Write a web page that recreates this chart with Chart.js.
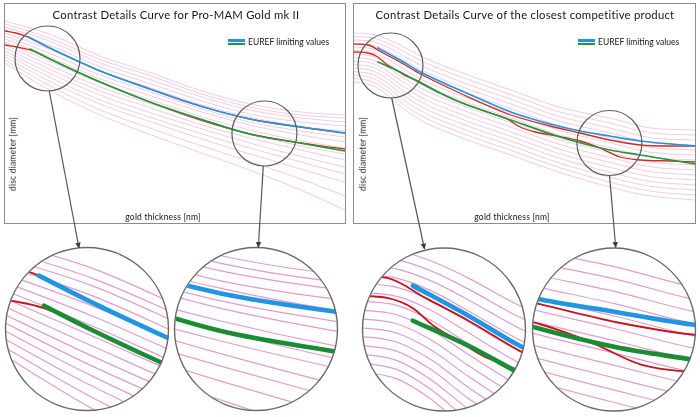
<!DOCTYPE html>
<html><head><meta charset="utf-8">
<script src="https://cdn.jsdelivr.net/npm/chart.js@4.4.1/dist/chart.umd.min.js"></script>
<style>
html,body{margin:0;padding:0;background:#fff;}
#page{position:relative;width:700px;height:417px;overflow:hidden;font-family:'Lato',sans-serif;color:#161616;}
.frame{position:absolute;border:1px solid #8c8c8c;}
.frame canvas{position:absolute;left:0;top:0;}
.txt{position:absolute;white-space:nowrap;transform:translate(-50%,-50%);line-height:1;}
.title{font-size:11.3px;letter-spacing:0.25px;}
.axl{font-size:8.5px;letter-spacing:0.2px;}
.ylab{transform:translate(-50%,-50%) rotate(-90deg);}
.leg{position:absolute;font-size:8.5px;line-height:1;white-space:nowrap;}
.sw{position:absolute;width:17px;height:2.5px;}
.lens{position:absolute;border-radius:50%;overflow:hidden;}
.lens canvas{position:absolute;left:0;top:0;}
svg{position:absolute;left:0;top:0;pointer-events:none;}
</style></head>
<body>
<div id="page">
  <div class="frame" style="left:4px;top:3px;width:340px;height:219px;"><canvas id="cL" width="340" height="219"></canvas></div>
  <div class="frame" style="left:353px;top:3px;width:341px;height:219px;"><canvas id="cR" width="341" height="219"></canvas></div>

  <div class="txt title" style="left:176px;top:15px;">Contrast Details Curve for Pro-MAM Gold mk II</div>
  <div class="txt title" style="left:525px;top:15px;">Contrast Details Curve of the closest competitive product</div>

  <div class="sw" style="left:228px;top:39px;background:#1f95e3;"></div>
  <div class="sw" style="left:228px;top:42.5px;background:#1d9a3c;"></div>
  <div class="leg" style="left:248px;top:37.5px;">EUREF limiting values</div>
  <div class="sw" style="left:578px;top:39px;background:#1f95e3;"></div>
  <div class="sw" style="left:578px;top:42.5px;background:#1d9a3c;"></div>
  <div class="leg" style="left:598px;top:37.5px;">EUREF limiting values</div>

  <div class="txt axl ylab" style="left:13px;top:154px;">disc diameter [mm]</div>
  <div class="txt axl ylab" style="left:363px;top:154px;">disc diameter [mm]</div>
  <div class="txt axl" style="left:163px;top:217px;">gold thickness [nm]</div>
  <div class="txt axl" style="left:512px;top:217px;">gold thickness [nm]</div>

  <div class="lens" id="l0"><canvas id="z0" width="163" height="163"></canvas></div>
  <div class="lens" id="l1"><canvas id="z1" width="163" height="163"></canvas></div>
  <div class="lens" id="l2"><canvas id="z2" width="163" height="163"></canvas></div>
  <div class="lens" id="l3"><canvas id="z3" width="163" height="163"></canvas></div>
  <svg id="ov" width="700" height="417"></svg>
</div>
<script>
// ================= DATA (gold thickness x, disc diameter y, arbitrary units) =================
// --- Pro-MAM Gold mk II ---
const pinkXLeft = [0, 13, 28, 43, 57, 72, 87, 100];
const pinkLeft = [
  [202, 189, 167, 150, 133, 119, 111, 108],
  [199, 185, 163.5, 147, 130, 116, 108, 105],
  [196, 182, 160, 143, 127, 113, 105, 101],
  [193, 178, 156, 139, 123, 109, 101, 97],
  [190, 174, 152, 135, 119, 106, 96.5, 92],
  [187, 170, 148, 131, 115, 101, 92, 86],
  [184, 166, 144, 127, 112, 98, 88, 81],
  [181, 162, 140, 123, 107, 93, 82, 75],
  [178, 158, 136, 119, 103, 89, 77, 69],
  [175, 154, 132, 115, 99, 85, 73, 63],
  [172, 150, 128, 110, 95, 80, 66.5, 56],
  [169, 146, 123, 105.5, 90, 75, 61, 49],
  [166, 142, 119, 101, 85, 69, 54, 40.5],
  [163, 137.5, 113, 94.5, 78, 61.5, 44, 27],
  [160, 133, 108, 88, 71, 53, 33, 13]
];
const blueLeftX  = [6.8, 13.2, 22, 28, 42.6, 57.4, 72, 86.8, 100];
const blueLeftY  = [186, 175, 161, 152, 134, 117, 104, 96, 90];
const greenLeftX = [7.4, 13.2, 22, 28, 42.6, 57.4, 72, 86.8, 100];
const greenLeftY = [174, 164, 150, 141, 121, 104, 89, 80, 72];
const redUpLeftX = [0, 3.2, 6.8, 13.2, 22, 28, 42.6, 57.4, 72, 86.8, 100];
const redUpLeftY = [192, 190, 186, 175, 161, 152, 134, 117, 104, 96, 90];
const redLoLeftX = [0, 3.5, 7.4, 13.2, 22, 28, 42.6, 57.4, 72, 86.8, 100];
const redLoLeftY = [178, 176, 173, 164, 150, 141, 121, 103, 89, 80, 74];

// --- closest competitive product ---
const pinkXRight = [0, 5, 9, 13.5, 19.5, 31, 46, 60, 75, 87, 100];
const pinkRight = [
  [190, 189, 185, 178, 167, 151, 133, 116, 105, 95, 93],
  [186.5, 185.4, 181.1, 173.6, 162.4, 146.4, 128.4, 111.4, 100.1, 90.1, 88],
  [183, 181.7, 177.1, 169.3, 157.9, 141.7, 123.7, 106.7, 95.1, 85.3, 83],
  [179.5, 178.1, 173.2, 164.9, 153.3, 137.1, 119.1, 102.1, 90.2, 80.4, 78],
  [176, 174.4, 169.3, 160.6, 148.7, 132.4, 114.4, 97.4, 85.3, 75.6, 73],
  [172.5, 170.8, 165.4, 156.2, 144.1, 127.8, 109.8, 92.8, 80.3, 70.7, 68],
  [169, 167.2, 161.4, 151.8, 139.6, 123.2, 105.2, 88.2, 75.4, 65.8, 63],
  [165.5, 163.5, 157.5, 147.5, 135, 118.5, 100.5, 83.5, 70.5, 61, 58],
  [162, 159.9, 153.6, 143.1, 130.4, 113.9, 95.9, 78.9, 65.6, 56.1, 53],
  [158.5, 156.2, 149.6, 138.8, 125.9, 109.2, 91.2, 74.2, 60.6, 51.3, 48],
  [155, 152.6, 145.7, 134.4, 121.3, 104.6, 86.6, 69.6, 55.7, 46.4, 43],
  [151.5, 149, 141.8, 130, 116.7, 100, 82, 65, 50.8, 41.5, 38],
  [148, 145.3, 137.8, 125.7, 112.2, 95.3, 77.3, 60.3, 45.8, 36.7, 33],
  [144.5, 141.7, 133.9, 121.3, 107.6, 90.7, 72.7, 55.7, 40.9, 31.8, 28],
  [141, 138, 130, 117, 103, 86, 68, 51, 36, 27, 23]
];
const blueRightX  = [7, 13.5, 19.5, 31, 46, 57.5, 66.3, 75, 84, 100];
const blueRightY  = [175, 163, 151, 133, 111, 99, 92, 87, 82, 77];
const greenRightX = [7, 13.5, 19.5, 25.2, 31, 46, 60.4, 75, 84, 100];
const greenRightY = [161, 151, 140, 130, 121, 103, 86, 73, 68, 59];
const redUpRightX = [0, 4.1, 8.5, 13.5, 19.5, 31, 46, 57.5, 66.3, 75, 84, 92.7, 100];
const redUpRightY = [179, 178, 170, 161, 149, 130, 108, 97, 90, 83, 78, 77, 77];
const redLoRightX = [0, 4.1, 7, 9.4, 12.3, 15.2, 18.8, 25.2, 31, 39.9, 44.9, 48.7, 53.1, 59.5, 66.3, 72.1, 78, 84, 92.7, 100];
const redLoRightY = [171, 170, 166, 159, 153, 147, 142, 130, 121, 110, 104, 96, 91, 87, 82, 75, 66, 63, 62, 61];

const xRange = [0, 100];
const yRange = [0, 219];

// magnified regions (centre in data units) and where the enlarged view sits
const lenses = [
  {chart: 0, cx: 12.5, cy: 164.5, el: 'l0', cv: 'z0', px: 87,  py: 329},
  {chart: 0, cx: 76.3, cy: 89.5,  el: 'l1', cv: 'z1', px: 256, py: 329},
  {chart: 1, cx: 10.7, cy: 157.5, el: 'l2', cv: 'z2', px: 444, py: 329.5},
  {chart: 1, cx: 74.9, cy: 80,    el: 'l3', cv: 'z3', px: 614, py: 329.5}
];
const SMALL_R = 32.5, BIG_R = 81.5;

// ================= BUILD =================
const C = {blue:'#1f95e3', green:'#1d9a3c', red:'#d42a1e'};
function pts(xs, ys){ return xs.map((x,i)=>({x:x, y:ys[i]})); }

function makeSets(side, big){
  const s = side === 0
    ? {pX:pinkXLeft, p:pinkLeft, bX:blueLeftX, bY:blueLeftY, gX:greenLeftX, gY:greenLeftY,
       ruX:redUpLeftX, ruY:redUpLeftY, rlX:redLoLeftX, rlY:redLoLeftY}
    : {pX:pinkXRight, p:pinkRight, bX:blueRightX, bY:blueRightY, gX:greenRightX, gY:greenRightY,
       ruX:redUpRightX, ruY:redUpRightY, rlX:redLoRightX, rlY:redLoRightY};
  const wMain = big ? 4.6 : 1.7, wRed = big ? 1.9 : 1.3, wPink = big ? 1.2 : 1;
  const pinkCol = big ? '#e49ace' : 'rgba(226,140,185,0.45)';
  const ds = [];
  ds.push({label:'EUREF limit (upper)', data:pts(s.bX,s.bY), borderColor:C.blue, borderWidth:wMain});
  ds.push({label:'EUREF limit (lower)', data:pts(s.gX,s.gY), borderColor: big ? '#1a8c33' : C.green, borderWidth:wMain});
  ds.push({label:'measured (upper)', data:pts(s.ruX,s.ruY), borderColor: big ? '#c8141a' : C.red, borderWidth:wRed});
  ds.push({label:'measured (lower)', data:pts(s.rlX,s.rlY), borderColor: big ? '#c8141a' : C.red, borderWidth:wRed});
  s.p.forEach((ys,i)=> ds.push({label:'curve '+(i+1), data:pts(s.pX, ys), borderColor:pinkCol, borderWidth:wPink}));
  ds.forEach(d=>{ d.pointRadius=0; d.fill=false; d.cubicInterpolationMode='monotone'; });
  return ds;
}

const lensPlugin = {
  id:'lensMarks',
  afterDatasetsDraw(chart, args, opts){
    const ctx = chart.ctx;
    lenses.filter(l=>l.chart===opts.side).forEach(l=>{
      const x = chart.scales.x.getPixelForValue(l.cx), y = chart.scales.y.getPixelForValue(l.cy);
      ctx.save(); ctx.beginPath(); ctx.arc(x, y, SMALL_R, 0, Math.PI*2);
      ctx.strokeStyle = '#5e5e5e'; ctx.lineWidth = 1.2; ctx.stroke(); ctx.restore();
    });
  }
};

function makeChart(canvas, datasets, xr, yr, plugins, side){
  return new Chart(canvas, {
    type:'line',
    data:{datasets:datasets},
    plugins: plugins,
    options:{
      responsive:false, animation:false, devicePixelRatio:1, events:[],
      layout:{padding:0},
      plugins:{legend:{display:false}, tooltip:{enabled:false}, title:{display:false}, lensMarks:{side:side}},
      scales:{
        x:{type:'linear', min:xr[0], max:xr[1], display:false},
        y:{type:'linear', min:yr[0], max:yr[1], display:false}
      },
      elements:{point:{radius:0}, line:{borderCapStyle:'round', borderJoinStyle:'round'}}
    }
  });
}

const tops = [
  makeChart(document.getElementById('cL'), makeSets(0,false), xRange, yRange, [lensPlugin], 0),
  makeChart(document.getElementById('cR'), makeSets(1,false), xRange, yRange, [lensPlugin], 1)
];

// enlarged circular views
lenses.forEach(l=>{
  const ch = tops[l.chart], xs = ch.scales.x, ys = ch.scales.y;
  const cxp = xs.getPixelForValue(l.cx), cyp = ys.getPixelForValue(l.cy);
  const xr = [xs.getValueForPixel(cxp - SMALL_R), xs.getValueForPixel(cxp + SMALL_R)];
  const yr = [ys.getValueForPixel(cyp + SMALL_R), ys.getValueForPixel(cyp - SMALL_R)];
  const el = document.getElementById(l.el);
  el.style.left = (l.px - BIG_R) + 'px'; el.style.top = (l.py - BIG_R) + 'px';
  el.style.width = (2*BIG_R) + 'px'; el.style.height = (2*BIG_R) + 'px';
  makeChart(document.getElementById(l.cv), makeSets(l.chart,true), xr, yr, [], -1);
});

// overlay: lens outlines and connector arrows
const NS = 'http://www.w3.org/2000/svg';
const svg = document.getElementById('ov');
svg.innerHTML = '<defs><marker id="ah" viewBox="0 0 10 10" refX="9" refY="5" markerWidth="5" markerHeight="6" orient="auto" markerUnits="strokeWidth"><path d="M0,0.5 L10,5 L0,9.5 z" fill="#3a3a3a"/></marker></defs>';
lenses.forEach(l=>{
  const c = document.createElementNS(NS,'circle');
  c.setAttribute('cx', l.px); c.setAttribute('cy', l.py); c.setAttribute('r', BIG_R);
  c.setAttribute('fill','none'); c.setAttribute('stroke','#6a6a6a'); c.setAttribute('stroke-width','1.4');
  svg.appendChild(c);
});
const connectors = [[49.3,91,79,248],[263.3,166,258.3,247.5],[391.7,98,424.5,249],[609.5,175,615.7,247.5]];
connectors.forEach(k=>{
  const ln = document.createElementNS(NS,'line');
  ln.setAttribute('x1',k[0]); ln.setAttribute('y1',k[1]); ln.setAttribute('x2',k[2]); ln.setAttribute('y2',k[3]);
  ln.setAttribute('stroke','#555'); ln.setAttribute('stroke-width','1.2'); ln.setAttribute('marker-end','url(#ah)');
  svg.appendChild(ln);
});
</script>
</body></html>
